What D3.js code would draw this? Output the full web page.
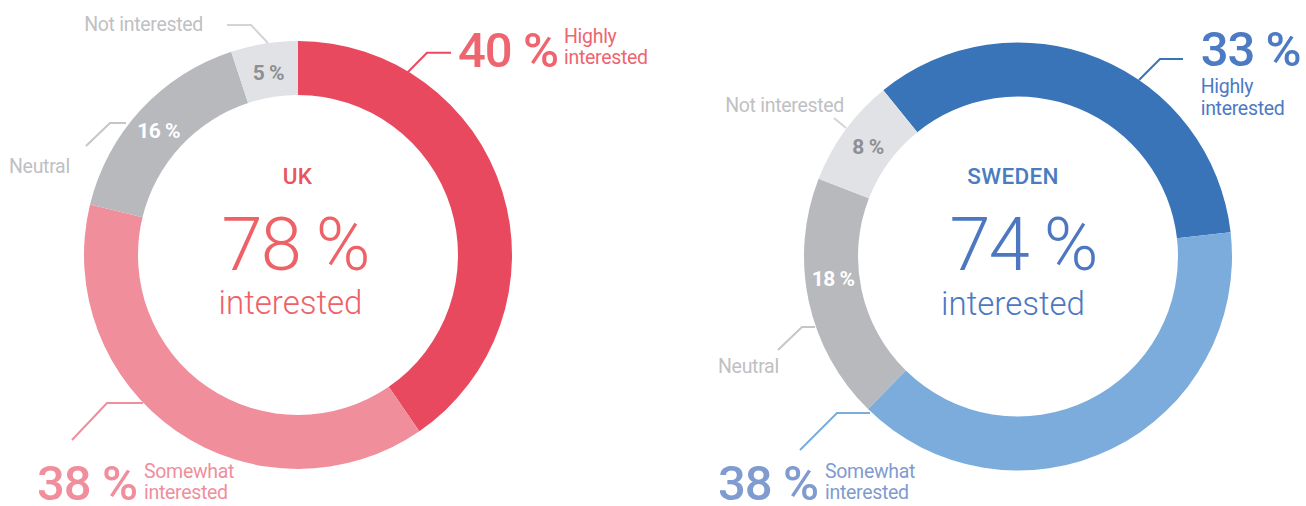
<!DOCTYPE html>
<html>
<head>
<meta charset="utf-8">
<script src="https://cdn.jsdelivr.net/npm/d3@7"></script>
<style>
  html, body { margin: 0; padding: 0; background: #fff; }
  svg { display: block; }
  text { font-family: Roboto, "Open Sans", "Liberation Sans", sans-serif; }
</style>
</head>
<body>
<svg id="chart" width="1306" height="506"></svg>
<script>
// ---- data ----
const categories = ["Highly interested", "Somewhat interested", "Neutral", "Not interested"];
const countries = ["UK", "SWEDEN"];
const ukValues = [40, 38, 16, 5];
const swedenValues = [33, 38, 18, 8];
const interestedTotals = [78, 74];
const shortLabels = [["Highly", "interested"], ["Somewhat", "interested"], "Neutral", "Not interested"];

// ---- styles / layout ----
const palettes = [
  { seg: ["#E8495F", "#F08E9C", "#B8B9BC", "#E1E2E6"], text: ["#EE6570", "#F08E9C"], title: "#E9545F", big: "#EE6167" },
  { seg: ["#3973B8", "#7BACDC", "#B8B9BC", "#E1E2E6"], text: ["#4C7AC3", "#7F9BD0"], title: "#4A7CC2", big: "#4D77C0" }
];
const greyText = "#BFC0C3";
const greyLine = "#D3D4D7";
const innerLabelColors = ["#fff", "#fff", "#fff", "#8E8F92"];

const layouts = [
  { cx: 298, cy: 255, start: 0,
    lines: [
      [[107,-180],[129,-202.3],[153,-202.3]],
      [[-155,148],[-191,148],[-226,185]],
      [[-172,-132],[-188,-132],[-212,-109]],
      [[-30,-212],[-47,-230],[-71,-230]]
    ],
    big: [[160,-188.5],[-261,245]],
    small: [[[266,-212],[266,-191]], [[-154,223],[-154,244]]],
    neutral: [-289,-82], notInt: [-95,-224],
    innerShift: [[0,0],[0,0],[-2,2],[0,2]],
    center: { title: [-0.5,-71], pct: [-3,14.5], word: [-7.5,59] }
  },
  { cx: 1018, cy: 256.5, start: -39,
    lines: [
      [[121,-176.5],[142,-197.5],[165,-197.5]],
      [[-148,156.5],[-181,156.5],[-218,193.5]],
      [[-203,70.5],[-216,70.5],[-240,93.5]],
      [[-172,-128.5],[-184,-138.5]]
    ],
    big: [[182.7,-190.5],[-300,243.5]],
    small: [[[182.7,-164],[182.7,-142]], [[-193,221.5],[-193,242.5]]],
    neutral: [-300,116.5], notInt: [-174,-144.5],
    innerShift: [[0,0],[0,0],[-2,-17],[1,0]],
    center: { title: [-5,-72.5], pct: [5,13], word: [-5,58] }
  }
];

const innerR = 160, outerR = 214;
const svg = d3.select("#chart");
svg.append("rect").attr("width", 1306).attr("height", 506).attr("fill", "#fff");

const arc = d3.arc().innerRadius(innerR).outerRadius(outerR);
const allValues = [ukValues, swedenValues];

allValues.forEach((vals, ci) => {
  const L = layouts[ci], P = palettes[ci];
  const rad = L.start * Math.PI / 180;
  const pie = d3.pie().sort(null).value(d => d.v)
    .startAngle(rad).endAngle(rad + 2 * Math.PI);
  const arcs = pie(vals.map((v, i) => ({ v, cat: categories[i], i })));
  const g = svg.append("g").attr("transform", `translate(${L.cx},${L.cy})`);

  g.selectAll("path.seg").data(arcs).join("path")
    .attr("class", "seg")
    .attr("d", arc)
    .attr("fill", d => P.seg[d.data.i]);

  // inner % labels for the grey segments
  g.selectAll("text.inner").data(arcs.filter(d => d.data.i >= 2)).join("text")
    .attr("class", "inner")
    .attr("transform", d => {
      const c = arc.centroid(d), s = L.innerShift[d.data.i];
      return `translate(${c[0] + s[0]},${c[1] + s[1]})`;
    })
    .attr("text-anchor", "middle")
    .attr("dy", "0.36em")
    .attr("font-size", 21)
    .attr("font-weight", 700)
    .attr("letter-spacing", -0.5)
    .attr("fill", d => innerLabelColors[d.data.i])
    .text(d => d.data.v + " %");

  // leader lines
  const lineGen = d3.line();
  L.lines.forEach((pts, i) => {
    g.append("path").attr("d", lineGen(pts))
      .attr("fill", "none")
      .attr("stroke", i < 2 ? P.seg[i] : (i === 2 ? "#C5C6C9" : greyLine))
      .attr("stroke-width", 2);
  });

  // big percentage labels
  [0, 1].forEach(i => {
    g.append("text")
      .attr("x", L.big[i][0]).attr("y", L.big[i][1])
      .attr("font-size", 49).attr("font-weight", 500)
      .attr("letter-spacing", -1)
      .attr("fill", P.text[i])
      .text(vals[i] + " %");
    shortLabels[i].forEach((w, k) => {
      g.append("text")
        .attr("x", L.small[i][k][0]).attr("y", L.small[i][k][1])
        .attr("font-size", 19.5).attr("font-weight", 400)
        .attr("letter-spacing", -0.3)
        .attr("fill", P.text[i])
        .text(w);
    });
  });

  g.append("text")
    .attr("x", L.neutral[0]).attr("y", L.neutral[1])
    .attr("font-size", 19.5).attr("fill", greyText)
    .attr("letter-spacing", -0.3)
    .text(shortLabels[2]);
  g.append("text")
    .attr("x", L.notInt[0]).attr("y", L.notInt[1])
    .attr("text-anchor", "end")
    .attr("font-size", 19.5).attr("fill", greyText)
    .attr("letter-spacing", -0.3)
    .text(shortLabels[3]);

  // centre text
  g.append("text")
    .attr("x", L.center.title[0]).attr("y", L.center.title[1])
    .attr("text-anchor", "middle")
    .attr("font-size", 22.5).attr("font-weight", 500)
    .attr("letter-spacing", 0.3)
    .attr("fill", P.title)
    .text(countries[ci]);
  g.append("text")
    .attr("x", L.center.pct[0]).attr("y", L.center.pct[1])
    .attr("text-anchor", "middle")
    .attr("font-size", 74).attr("font-weight", 300)
    .attr("letter-spacing", -2)
    .attr("fill", P.big)
    .text(interestedTotals[ci] + " %");
  g.append("text")
    .attr("x", L.center.word[0]).attr("y", L.center.word[1])
    .attr("text-anchor", "middle")
    .attr("font-size", 33).attr("font-weight", 300)
    .attr("fill", P.big)
    .text("interested");
});
</script>
</body>
</html>
